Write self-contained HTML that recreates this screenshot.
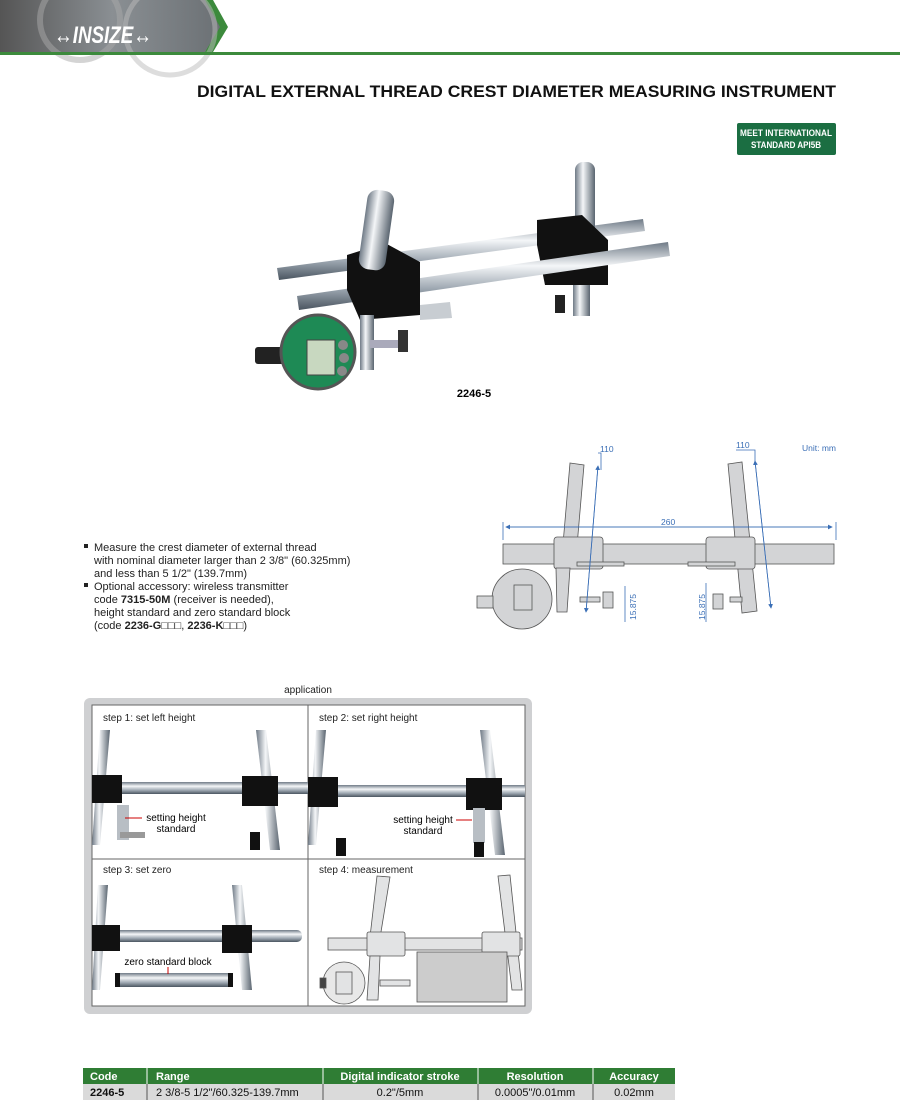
<!DOCTYPE html>
<html><head><meta charset="utf-8"><style>
body{margin:0;background:#fff;}
svg{display:block;font-family:"Liberation Sans",Arial,sans-serif;}
</style></head><body>
<svg width="900" height="1115" viewBox="0 0 900 1115" xmlns="http://www.w3.org/2000/svg">
<defs>
<linearGradient id="rod" x1="0" y1="0" x2="0" y2="1"><stop offset="0" stop-color="#6f7a86"/><stop offset="0.35" stop-color="#f4f6f8"/><stop offset="0.7" stop-color="#9aa4ae"/><stop offset="1" stop-color="#4a5560"/></linearGradient>
<linearGradient id="post" x1="0" y1="0" x2="1" y2="0"><stop offset="0" stop-color="#6f7a86"/><stop offset="0.4" stop-color="#f4f6f8"/><stop offset="1" stop-color="#5a6570"/></linearGradient>
<linearGradient id="hdr" x1="0" y1="0" x2="1" y2="0"><stop offset="0" stop-color="#555"/><stop offset="0.5" stop-color="#8a8f93"/><stop offset="1" stop-color="#6a6f73"/></linearGradient>
<marker id="ar" markerWidth="6" markerHeight="6" refX="5" refY="3" orient="auto"><path d="M0,0 L6,3 L0,6 z" fill="#3b6fb6"/></marker>
</defs>
<!-- header -->
<polygon points="0,0 205,0 225,27 205,52 0,52" fill="url(#hdr)"/>
<polygon points="205,0 213,0 228,27 213,52 205,52 220,27" fill="#3c8a3c"/>
<circle cx="80" cy="20" r="40" fill="none" stroke="#aaa" stroke-width="6" opacity="0.5"/>
<circle cx="170" cy="30" r="45" fill="none" stroke="#bbb" stroke-width="5" opacity="0.5"/>
<text x="54" y="43" font-size="24" font-weight="bold" font-style="italic" fill="#fff" textLength="98" lengthAdjust="spacingAndGlyphs">↔INSIZE↔</text>
<rect x="0" y="52" width="900" height="3" fill="#3c8a3c"/>
<text x="197" y="97" font-size="17" font-weight="bold" fill="#111" textLength="639" lengthAdjust="spacingAndGlyphs">DIGITAL EXTERNAL THREAD CREST DIAMETER MEASURING INSTRUMENT</text>
<rect x="737" y="123" width="99" height="32" rx="2" fill="#1b6e42"/>
<text x="786" y="136" font-size="9" font-weight="bold" fill="#fff" text-anchor="middle" textLength="92" lengthAdjust="spacingAndGlyphs">MEET INTERNATIONAL</text>
<text x="786" y="148" font-size="9" font-weight="bold" fill="#fff" text-anchor="middle" textLength="70" lengthAdjust="spacingAndGlyphs">STANDARD API5B</text>
<!-- product -->
<g>
<rect x="573" y="280" width="17" height="36" fill="url(#post)"/>
<polygon points="277,268 643,219 645,231 279,280" fill="url(#rod)"/>
<rect x="575" y="162" width="20" height="85" rx="8" fill="url(#post)"/>
<path d="M537,220 L582,215 L608,240 L608,285 L545,285 L537,245 z" fill="#111"/>
<polygon points="297,296 668,242 670,256 299,310" fill="url(#rod)"/>
<polygon points="420,305 450,302 452,318 420,320" fill="#c8cdd2"/>
<path d="M347,255 L385,243 L420,262 L420,315 L360,320 L347,290 z" fill="#111"/>
<rect x="363" y="190" width="27" height="80" rx="10" fill="url(#post)" transform="rotate(8 376 230)"/>
<rect x="360" y="315" width="14" height="55" fill="url(#post)"/>
<rect x="555" y="295" width="10" height="18" fill="#222"/>
<rect x="370" y="340" width="35" height="8" fill="#aab"/>
<rect x="398" y="330" width="10" height="22" fill="#333"/>
<rect x="255" y="347" width="30" height="17" rx="3" fill="#222"/>
<circle cx="318" cy="352" r="37" fill="#1e8a55"/>
<circle cx="318" cy="352" r="37" fill="none" stroke="#555" stroke-width="3"/>
<rect x="307" y="340" width="28" height="35" fill="#c8d8c0" stroke="#444"/>
<circle cx="343" cy="345" r="5" fill="#888"/><circle cx="344" cy="358" r="5" fill="#888"/><circle cx="342" cy="371" r="5" fill="#888"/>
</g>
<text x="474" y="397" font-size="11" font-weight="bold" text-anchor="middle">2246-5</text>
<!-- bullets -->
<g font-size="11" fill="#222">
<rect x="84" y="544" width="4" height="4" fill="#222"/>
<text x="94" y="551">Measure the crest diameter of external thread</text>
<text x="94" y="564">with nominal diameter larger than 2 3/8" (60.325mm)</text>
<text x="94" y="577">and less than 5 1/2" (139.7mm)</text>
<rect x="84" y="583" width="4" height="4" fill="#222"/>
<text x="94" y="590">Optional accessory: wireless transmitter</text>
<text x="94" y="603">code <tspan font-weight="bold">7315-50M</tspan> (receiver is needed),</text>
<text x="94" y="616">height standard and zero standard block</text>
<text x="94" y="629">(code <tspan font-weight="bold">2236-G</tspan>□□□, <tspan font-weight="bold">2236-K</tspan>□□□)</text>
</g>
<!-- technical drawing -->
<g stroke="#555" stroke-width="0.8" fill="#d3d4d6">
<polygon points="570,463 584,465 577,546 563,544"/>
<polygon points="728,464 742,462 757,611 742,613"/>
<rect x="503" y="544" width="331" height="20"/>
<rect x="554" y="537" width="49" height="32" rx="3"/>
<rect x="706" y="537" width="49" height="32" rx="3"/>
<rect x="577" y="562" width="47" height="4"/>
<rect x="688" y="562" width="47" height="4"/>
<polygon points="556,568 570,568 567,612 557,612"/>
<rect x="580" y="597" width="20" height="5"/>
<rect x="603" y="592" width="10" height="16"/>
<rect x="713" y="594" width="10" height="15"/>
<rect x="730" y="597" width="12" height="5"/>
<circle cx="522" cy="599" r="30"/>
<rect x="514" y="585" width="18" height="25"/>
<rect x="477" y="596" width="16" height="12"/>
</g>
<g stroke="#3b6fb6" stroke-width="0.8" fill="none">
<line x1="506" y1="527" x2="832" y2="527" marker-end="url(#ar)"/>
<line x1="832" y1="527" x2="506" y2="527" marker-end="url(#ar)"/>
<line x1="503" y1="522" x2="503" y2="540"/><line x1="836" y1="522" x2="836" y2="540"/>
<line x1="598" y1="466" x2="586" y2="612" marker-end="url(#ar)"/>
<line x1="586" y1="612" x2="598" y2="466" marker-end="url(#ar)"/>
<polyline points="598,453 601,453 601,470"/>
<line x1="755" y1="461" x2="771" y2="608" marker-end="url(#ar)"/>
<line x1="771" y1="608" x2="755" y2="461" marker-end="url(#ar)"/>
<polyline points="736,450 755,450 755,463"/>
<line x1="625" y1="586" x2="625" y2="622"/><line x1="706" y1="583" x2="706" y2="622"/>
</g>
<g font-size="8.5" fill="#3b6fb6">
<text x="600" y="452">110</text><text x="736" y="448">110</text>
<text x="802" y="451">Unit: mm</text><text x="661" y="525">260</text>
<text x="636" y="620" transform="rotate(-90 636 620)">15.875</text>
<text x="705" y="620" transform="rotate(-90 705 620)">15.875</text>
</g>
<!-- application -->
<text x="308" y="693" font-size="10" text-anchor="middle" fill="#222">application</text>
<rect x="84" y="698" width="448" height="316" rx="6" fill="#cfd0d2"/>
<rect x="92" y="705" width="433" height="301" fill="#fff" stroke="#666"/>
<line x1="308" y1="705" x2="308" y2="1006" stroke="#666"/>
<line x1="92" y1="859" x2="525" y2="859" stroke="#666"/>
<g font-size="10" fill="#222">
<text x="103" y="721">step 1: set left height</text>
<text x="319" y="721">step 2: set right height</text>
<text x="103" y="873">step 3: set zero</text>
<text x="319" y="873">step 4: measurement</text>
</g>
<!-- step1 -->
<polygon points="100,730 110,730 100,845 92,845" fill="url(#post)"/>
<polygon points="256,730 266,730 280,850 270,850" fill="url(#post)"/>
<rect x="120" y="782" width="188" height="12" fill="url(#rod)"/>
<rect x="92" y="775" width="30" height="28" fill="#111"/>
<rect x="242" y="776" width="36" height="30" fill="#111"/>
<rect x="117" y="805" width="12" height="35" fill="#b8bec4"/>
<rect x="120" y="832" width="25" height="6" fill="#999"/>
<rect x="250" y="832" width="10" height="18" fill="#111"/>
<line x1="125" y1="818" x2="142" y2="818" stroke="#c00"/>
<text x="176" y="821" font-size="10" text-anchor="middle">setting height</text>
<text x="176" y="832" font-size="10" text-anchor="middle">standard</text>
<!-- step2 -->
<polygon points="316,730 326,730 316,845 308,845" fill="url(#post)"/>
<polygon points="480,730 490,730 505,855 495,855" fill="url(#post)"/>
<rect x="335" y="785" width="190" height="12" fill="url(#rod)"/>
<rect x="308" y="777" width="30" height="30" fill="#111"/>
<rect x="466" y="778" width="36" height="32" fill="#111"/>
<rect x="473" y="808" width="12" height="35" fill="#b8bec4"/>
<rect x="336" y="838" width="10" height="18" fill="#111"/>
<rect x="474" y="842" width="10" height="15" fill="#111"/>
<line x1="456" y1="820" x2="472" y2="820" stroke="#c00"/>
<text x="423" y="823" font-size="10" text-anchor="middle">setting height</text>
<text x="423" y="834" font-size="10" text-anchor="middle">standard</text>
<!-- step3 -->
<polygon points="98,885 108,885 100,990 92,990" fill="url(#post)"/>
<polygon points="232,885 242,885 252,990 242,990" fill="url(#post)"/>
<rect x="115" y="930" width="187" height="12" rx="5" fill="url(#rod)"/>
<rect x="92" y="925" width="28" height="26" fill="#111"/>
<rect x="222" y="925" width="30" height="28" fill="#111"/>
<rect x="115" y="973" width="118" height="14" fill="url(#rod)"/>
<rect x="115" y="973" width="5" height="14" fill="#111"/><rect x="228" y="973" width="5" height="14" fill="#111"/>
<line x1="168" y1="967" x2="168" y2="974" stroke="#c00"/>
<text x="168" y="965" font-size="10" text-anchor="middle">zero standard block</text>
<!-- step4 -->
<g stroke="#555" stroke-width="0.8" fill="#e2e3e4">
<polygon points="377,876 390,877 380,938 370,937"/>
<polygon points="498,876 510,875 522,990 512,990"/>
<rect x="328" y="938" width="194" height="12"/>
<rect x="367" y="932" width="38" height="24" rx="2"/>
<rect x="482" y="932" width="38" height="24" rx="2"/>
<polygon points="370,956 380,956 378,1000 367,1000"/>
<rect x="417" y="952" width="90" height="50" fill="#ccc"/>
<circle cx="344" cy="983" r="21" fill="#e8e8e8"/>
<rect x="336" y="972" width="16" height="22"/>
<rect x="320" y="978" width="6" height="10" fill="#444"/>
<rect x="380" y="980" width="30" height="6"/>
</g>
<!-- table -->
<rect x="83" y="1068" width="592" height="16" fill="#2f7d34"/>
<rect x="83" y="1084" width="592" height="16" fill="#dadada"/>
<g stroke="#fff" stroke-width="1"><line x1="147" y1="1068" x2="147" y2="1084"/><line x1="323" y1="1068" x2="323" y2="1084"/><line x1="478" y1="1068" x2="478" y2="1084"/><line x1="593" y1="1068" x2="593" y2="1084"/></g>
<g stroke="#555" stroke-width="1"><line x1="147" y1="1084" x2="147" y2="1100"/><line x1="323" y1="1084" x2="323" y2="1100"/><line x1="478" y1="1084" x2="478" y2="1100"/><line x1="593" y1="1084" x2="593" y2="1100"/></g>
<g font-size="11" font-weight="bold" fill="#fff">
<text x="90" y="1080">Code</text><text x="156" y="1080">Range</text>
<text x="400" y="1080" text-anchor="middle">Digital indicator stroke</text>
<text x="535" y="1080" text-anchor="middle">Resolution</text>
<text x="634" y="1080" text-anchor="middle">Accuracy</text>
</g>
<g font-size="11" fill="#111">
<text x="90" y="1096" font-weight="bold">2246-5</text><text x="156" y="1096">2 3/8-5 1/2"/60.325-139.7mm</text>
<text x="400" y="1096" text-anchor="middle">0.2"/5mm</text>
<text x="535" y="1096" text-anchor="middle">0.0005"/0.01mm</text>
<text x="634" y="1096" text-anchor="middle">0.02mm</text>
</g>
</svg>
</body></html>
